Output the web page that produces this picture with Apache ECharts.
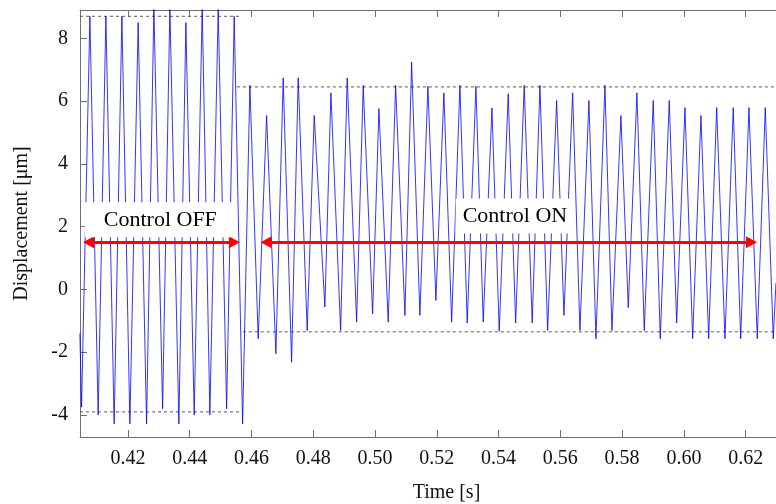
<!DOCTYPE html>
<html>
<head>
<meta charset="utf-8">
<script src="https://cdn.jsdelivr.net/npm/echarts@6/dist/echarts.min.js"></script>
<style>
  html, body { margin: 0; padding: 0; background: #fff; overflow: hidden; }
  #chart { width: 776px; height: 504px; }
</style>
</head>
<body>
<div id="chart"></div>
<script>
// Measured displacement: successive turning points of the vibration signal
const timeS = [
  0.40446, 0.40501, 0.40770, 0.41038, 0.41288, 0.41556, 0.41806, 0.42065, 0.42333, 0.42605,
  0.42842, 0.43124, 0.43360, 0.43651, 0.43878, 0.44147, 0.44406, 0.44655, 0.44924, 0.45196,
  0.45442, 0.45714, 0.45950, 0.46219, 0.46491, 0.46792, 0.47028, 0.47300, 0.47514, 0.47805,
  0.48032, 0.48378, 0.48573, 0.48887, 0.49101, 0.49405, 0.49619, 0.49923, 0.50127, 0.50428,
  0.50668, 0.50969, 0.51186, 0.51454, 0.51713, 0.51972, 0.52231, 0.52481, 0.52750, 0.52986,
  0.53268, 0.53504, 0.53786, 0.54022, 0.54313, 0.54553, 0.54831, 0.55090, 0.55340, 0.55589,
  0.55880, 0.56117, 0.56399, 0.56635, 0.56926, 0.57153, 0.57444, 0.57671, 0.57962, 0.58199,
  0.58480, 0.58717, 0.59008, 0.59235, 0.59526, 0.59766, 0.60035, 0.60284, 0.60553, 0.60802,
  0.61061, 0.61330, 0.61598, 0.61838, 0.62107, 0.62376, 0.62635, 0.62894, 0.62981
];
const displacementUm = [
  -1.4, -3.75, 8.7, -4.0, 8.7, -4.28, 8.7, -4.28, 8.5, -4.28,
  9.0, -3.8, 9.0, -4.28, 8.5, -4.0, 9.0, -4.0, 8.95, -3.8,
  8.7, -4.28, 6.5, -1.57, 5.54, -2.05, 6.74, -2.32, 6.74, -1.31,
  5.54, -0.56, 6.26, -1.31, 6.74, -1.04, 6.5, -0.78, 5.76, -1.04,
  6.5, -0.83, 7.24, -0.83, 6.47, -0.35, 6.26, -1.04, 6.5, -1.07,
  6.47, -1.04, 5.78, -1.33, 6.23, -1.07, 6.5, -1.07, 6.5, -1.31,
  6.02, -0.83, 6.26, -1.31, 6.02, -1.57, 6.5, -1.31, 5.54, -0.58,
  6.26, -1.31, 6.02, -1.57, 6.02, -1.07, 5.79, -1.57, 5.54, -1.57,
  5.79, -1.57, 5.79, -1.57, 5.79, -1.57, 5.79, -1.57, 0.2
];

// Tick positions
const timeTicks = [0.42, 0.44, 0.46, 0.48, 0.50, 0.52, 0.54, 0.56, 0.58, 0.60, 0.62];
const displacementTicks = [-4, -2, 0, 2, 4, 6, 8];

// Envelope levels (µm) and the time span each one covers (s)
const offPeakLevel = [8.7, 0.4045, 0.4563];
const offValleyLevel = [-3.9, 0.4045, 0.4572];
const onPeakLevel = [6.45, 0.4553, 0.6418];
const onValleyLevel = [-1.35, 0.4572, 0.6418];

// Phase annotations: arrow level, spans and captions
const arrowLevel = 1.5;
const offSpan = [0.40725, 0.45448];
const onSpan = [0.46475, 0.62188];
const offCaption = { text: 'Control OFF', time: 0.4305, level: 2.22 };
const onCaption = { text: 'Control ON', time: 0.5453, level: 2.34 };

const serif = 'Liberation Serif';
const axisGrey = '#6f6f6f';

const signal = timeS.map((t, i) => [t, displacementUm[i]]);

function envelope(level) {
  return {
    type: 'line',
    data: [[level[1], level[0]], [level[2], level[0]]],
    showSymbol: false,
    silent: true,
    z: 3,
    lineStyle: { color: '#5a5a5a', width: 1, type: [3, 3] }
  };
}

function phaseArrow(span) {
  return [{ coord: [span[0], arrowLevel] }, { coord: [span[1], arrowLevel] }];
}

const chart = echarts.init(document.getElementById('chart'), null, { renderer: 'canvas' });

// The plotting frame runs past the right edge of the page
chart.setOption({
  animation: false,
  backgroundColor: '#ffffff',
  grid: { left: 80, top: 10, right: -37, bottom: 67, outerBoundsMode: 'none', containLabel: false },
  xAxis: [
    {
      type: 'value',
      position: 'bottom',
      min: 0.4045,
      max: 0.6418,
      name: 'Time [s]',
      nameLocation: 'middle',
      nameGap: 46,
      nameTextStyle: { fontFamily: serif, fontSize: 20, color: '#111' },
      axisLine: { show: true, onZero: false, lineStyle: { color: axisGrey, width: 1 } },
      axisTick: { show: true, inside: true, length: 7, customValues: timeTicks, lineStyle: { color: axisGrey } },
      axisLabel: {
        customValues: timeTicks,
        margin: 12,
        fontFamily: serif,
        fontSize: 20,
        color: '#111',
        formatter: v => v.toFixed(2)
      },
      splitLine: { show: false }
    },
    {
      type: 'value',
      position: 'top',
      min: 0.4045,
      max: 0.6418,
      axisLine: { show: true, onZero: false, lineStyle: { color: axisGrey, width: 1 } },
      axisTick: { show: true, inside: true, length: 7, customValues: timeTicks, lineStyle: { color: axisGrey } },
      axisLabel: { show: false },
      splitLine: { show: false }
    }
  ],
  yAxis: {
    type: 'value',
    min: -4.7,
    max: 8.9,
    name: 'Displacement [μm]',
    nameLocation: 'middle',
    nameGap: 48,
    nameTextStyle: { fontFamily: serif, fontSize: 20, color: '#111' },
    axisLine: { show: true, onZero: false, lineStyle: { color: axisGrey, width: 1 } },
    axisTick: { show: true, inside: true, length: 7, customValues: displacementTicks, lineStyle: { color: axisGrey } },
    axisLabel: {
      customValues: displacementTicks,
      margin: 12,
      fontFamily: serif,
      fontSize: 20,
      color: '#111'
    },
    splitLine: { show: false }
  },
  series: [
    {
      name: 'Displacement',
      type: 'line',
      data: signal,
      showSymbol: false,
      silent: true,
      z: 4,
      clip: true,
      lineStyle: { color: '#0000ff', width: 0.8 }
    },
    envelope(offPeakLevel),
    envelope(offValleyLevel),
    envelope(onPeakLevel),
    envelope(onValleyLevel),
    {
      name: 'Captions',
      type: 'scatter',
      symbolSize: 0,
      silent: true,
      z: 6,
      itemStyle: { opacity: 1 },
      data: [
        {
          value: [offCaption.time, offCaption.level],
          label: { formatter: offCaption.text, padding: [7, 19, 6, 19] }
        },
        {
          value: [onCaption.time, onCaption.level],
          label: { formatter: onCaption.text, padding: [7, 7, 6, 7] }
        }
      ],
      label: {
        show: true,
        position: 'inside',
        opacity: 1,
        fontFamily: serif,
        fontSize: 22,
        color: '#000',
        textBorderWidth: 0,
        backgroundColor: '#ffffff'
      }
    },
    {
      name: 'Phases',
      type: 'line',
      data: [],
      z: 7,
      markLine: {
        silent: true,
        symbol: ['triangle', 'triangle'],
        symbolSize: [12, 11],
        label: { show: false },
        lineStyle: { color: '#ff0000', width: 3, type: 'solid', opacity: 1 },
        emphasis: { disabled: true },
        data: [phaseArrow(offSpan), phaseArrow(onSpan)]
      }
    }
  ]
});
</script>
</body>
</html>
